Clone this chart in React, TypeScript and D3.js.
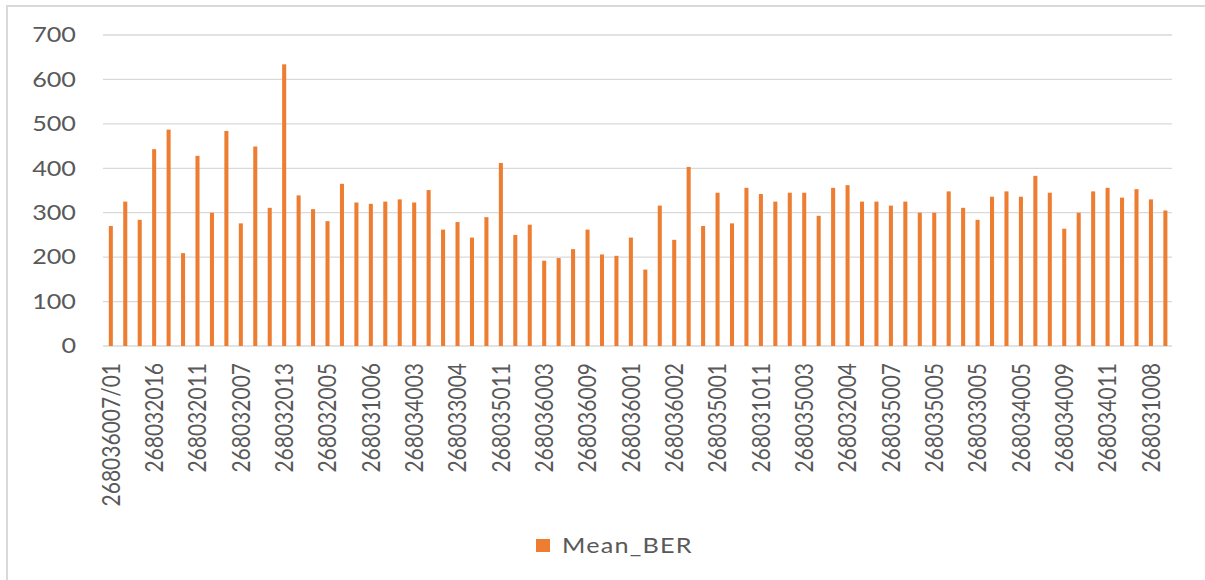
import * as d3 from 'd3';

const width = 1205;
const height = 580;
const margin = { top: 35, right: 33, bottom: 234, left: 103 };
const orange = '#ED7D31';
const grid = '#D9D9D9';
const textColor = '#595959';
const font = 'Lato, "Noto Sans", sans-serif';

// Mean_BER per station, in chart order (only every third name is shown on the axis)
const meanBer = [
  270, 325, 284, 443, 487, 209, 428, 300, 484, 276,
  449, 311, 634, 339, 308, 281, 365, 323, 320, 325,
  330, 323, 351, 262, 279, 244, 290, 412, 250, 273,
  192, 198, 218, 262, 206, 203, 244, 172, 316, 239,
  403, 270, 345, 276, 356, 342, 325, 345, 345, 293,
  356, 362, 325, 325, 316, 325, 300, 300, 348, 311,
  284, 336, 348, 336, 383, 345, 264, 300, 348, 356,
  334, 353, 330, 305,
];

const tickLabels = [
  '268036007/01', '268032016', '268032011', '268032007', '268032013',
  '268032005', '268031006', '268034003', '268033004', '268035011',
  '268036003', '268036009', '268036001', '268036002', '268035001',
  '268031011', '268035003', '268032004', '268035007', '268035005',
  '268033005', '268034005', '268034009', '268034011', '268031008',
];
const labelEvery = 3;

const yTicks = [0, 100, 200, 300, 400, 500, 600, 700];
const seriesName = 'Mean_BER';

export default function App() {
  const x = d3
    .scaleBand<number>()
    .domain(d3.range(meanBer.length))
    .range([margin.left, width - margin.right])
    .paddingInner(0.72)
    .paddingOuter(0.36);

  const y = d3
    .scaleLinear()
    .domain([0, 700])
    .range([height - margin.bottom, margin.top]);

  const bw = x.bandwidth();

  return (
    <svg
      width={width}
      height={height}
      style={{ position: 'absolute', left: 0, top: 0, display: 'block', background: '#fff' }}
      fontFamily={font}
    >
      <rect x={7} y={6} width={1220} height={600} fill="#fff" stroke={grid} strokeWidth={2} />

      {yTicks.map((t) => (
        <g key={t}>
          <line
            x1={margin.left}
            x2={width - margin.right}
            y1={y(t)}
            y2={y(t)}
            stroke={grid}
            strokeWidth={1.3}
          />
          <text
            transform={`translate(76,${y(t)}) scale(1.2,1)`}
            textAnchor="end"
            dy="0.35em"
            fontSize={21}
            fill={textColor}
          >
            {t}
          </text>
        </g>
      ))}

      {meanBer.map((v, i) => (
        <rect
          key={i}
          x={(x(i) ?? 0) + 0.6}
          y={y(v)}
          width={bw}
          height={y(0) - y(v)}
          fill={orange}
        />
      ))}

      {tickLabels.map((lab, k) => {
        const cx = (x(k * labelEvery) ?? 0) + bw / 2 + 0.6;
        return (
          <text
            key={lab + k}
            transform={`translate(${cx},${y(0) + 17}) scale(1.2,1) rotate(-90)`}
            textAnchor="end"
            dy="0.35em"
            fontSize={21}
            fill={textColor}
          >
            {lab}
          </text>
        );
      })}

      <g>
        <rect x={536} y={539} width={14} height={13} fill={orange} />
        <text
          transform="translate(562,545.5) scale(1.2,1)"
          dy="0.35em"
          fontSize={21}
          letterSpacing={1}
          fill={textColor}
        >
          {seriesName}
        </text>
      </g>
    </svg>
  );
}
